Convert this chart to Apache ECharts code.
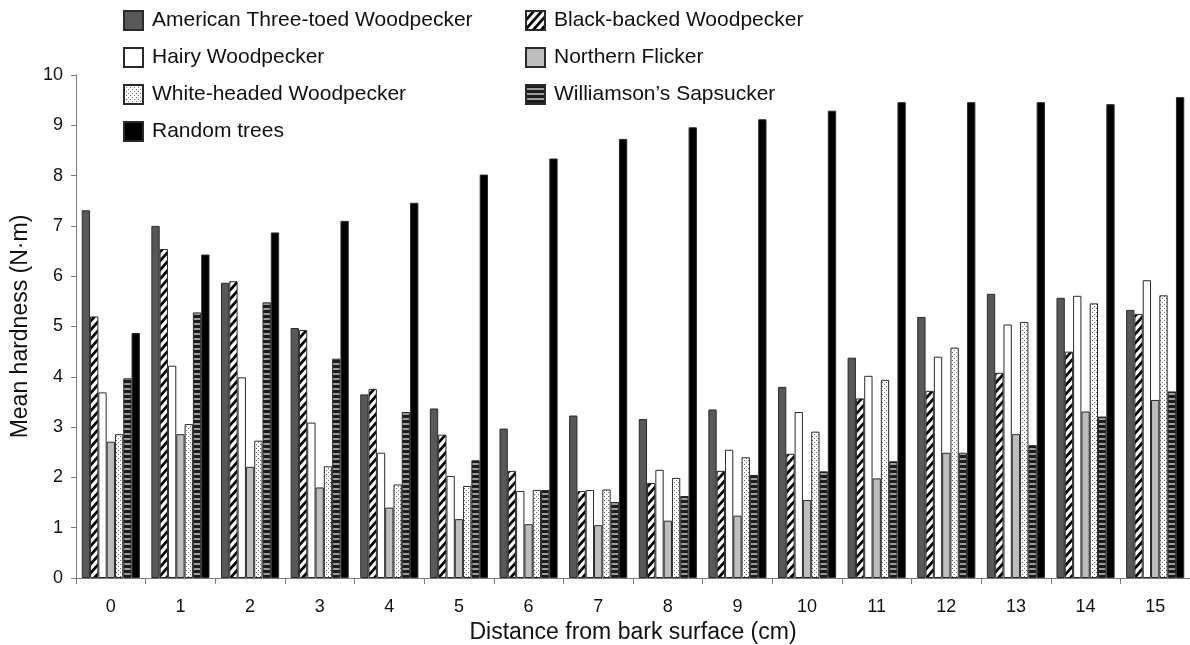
<!DOCTYPE html>
<html>
<head>
<meta charset="utf-8">
<script src="https://cdn.jsdelivr.net/npm/echarts@6/dist/echarts.min.js"></script>
<style>
html,body{margin:0;padding:0;background:#fff;}
#chart{width:1190px;height:645px;}
</style>
</head>
<body>
<div id="chart"></div>
<script>
// ---- data ----
const categories = ['0','1','2','3','4','5','6','7','8','9','10','11','12','13','14','15'];
const seriesNames = ['American Three-toed Woodpecker','Black-backed Woodpecker','Hairy Woodpecker','Northern Flicker','White-headed Woodpecker',"Williamson\u2019s Sapsucker",'Random trees'];
const americanThreeToed = [7.31,7.00,5.87,4.97,3.65,3.37,2.97,3.23,3.16,3.35,3.80,4.38,5.19,5.65,5.57,5.33];
const blackBacked      = [5.20,6.54,5.90,4.93,3.76,2.85,2.13,1.73,1.89,2.13,2.47,3.57,3.72,4.08,4.50,5.25];
const hairy            = [3.69,4.22,3.99,3.09,2.49,2.03,1.73,1.75,2.15,2.55,3.30,4.02,4.40,5.04,5.61,5.92];
const northernFlicker  = [2.71,2.86,2.21,1.80,1.40,1.17,1.07,1.05,1.14,1.24,1.55,1.98,2.49,2.86,3.31,3.54];
const whiteHeaded      = [2.86,3.06,2.73,2.22,1.86,1.83,1.75,1.76,1.99,2.40,2.91,3.94,4.58,5.09,5.46,5.62];
const williamsons      = [3.97,5.28,5.48,4.36,3.30,2.34,1.75,1.51,1.63,2.05,2.12,2.32,2.49,2.64,3.21,3.71];
const randomTrees      = [4.87,6.43,6.87,7.10,7.46,8.02,8.34,8.73,8.96,9.12,9.29,9.46,9.46,9.46,9.42,9.56];
const yTicks = [0,1,2,3,4,5,6,7,8,9,10];

// ---- patterns ----
function makeCanvas(w,h){const c=document.createElement('canvas');c.width=w;c.height=h;return c;}
function hatch(){
  const w=8,h=9,c=makeCanvas(w,h),x=c.getContext('2d');
  x.fillStyle='#fff';x.fillRect(0,0,w,h);
  x.strokeStyle='#000';x.lineWidth=2.8;x.lineCap='butt';
  for(let k=-1;k<=1;k++){
    x.beginPath();
    x.moveTo(-2,h+k*h+2*h/w);x.lineTo(w+2,k*h-2*h/w);x.stroke();
  }
  return c;
}
function dots(){
  const c=makeCanvas(4,4),x=c.getContext('2d');
  x.fillStyle='#fff';x.fillRect(0,0,4,4);
  x.fillStyle='#6a6a6a';
  x.fillRect(0,0,1,1);x.fillRect(2,2,1,1);
  return c;
}
function hstripes(){
  const c=makeCanvas(4,5),x=c.getContext('2d');
  x.fillStyle='#1c1c1c';x.fillRect(0,0,4,5);
  x.fillStyle='#9c9c9c';x.fillRect(0,3,4,2);
  return c;
}
const fills = [
  '#585858',
  {image:hatch(),repeat:'repeat'},
  '#ffffff',
  '#bdbdbd',
  {image:dots(),repeat:'repeat'},
  {image:hstripes(),repeat:'repeat'},
  '#000000'
];
const values = [americanThreeToed,blackBacked,hairy,northernFlicker,whiteHeaded,williamsons,randomTrees];

const font = 'Liberation Sans, Arial, Helvetica, sans-serif';
const chart = echarts.init(document.getElementById('chart'),null,{renderer:'canvas'});

const series = seriesNames.map((n,i)=>({
  name:n,type:'bar',data:values[i],
  barGap:'0%',barCategoryGap:'16.5%',
  itemStyle:{color:fills[i],borderColor:'#2a2a2a',borderWidth:1},
  emphasis:{disabled:true},
  animation:false
}));

const legendCommon = {
  orient:'vertical',itemWidth:19,itemHeight:19,itemGap:16,padding:0,
  icon:'rect',
  textStyle:{fontFamily:font,fontSize:21,color:'#111',padding:[0,0,0,4]},
  selectedMode:false
};

chart.setOption({
  animation:false,
  backgroundColor:'#fff',
  textStyle:{fontFamily:font},
  grid:{left:76,right:0,top:75,bottom:67,containLabel:false,outerBoundsMode:'none'},
  legend:[
    Object.assign({},legendCommon,{left:123,top:10,data:[seriesNames[0],seriesNames[2],seriesNames[4],seriesNames[6]]}),
    Object.assign({},legendCommon,{left:525,top:10,data:[seriesNames[1],seriesNames[3],seriesNames[5]]})
  ],
  xAxis:{
    type:'category',data:categories,
    name:'Distance from bark surface (cm)',nameLocation:'middle',nameGap:43,
    nameTextStyle:{fontFamily:font,fontSize:23,color:'#111'},
    axisLine:{lineStyle:{color:'#7a7a7a',width:1}},
    axisTick:{show:true,alignWithLabel:false,length:6,lineStyle:{color:'#7a7a7a'}},
    axisLabel:{fontFamily:font,fontSize:18,color:'#111',margin:20},
    splitLine:{show:false}
  },
  yAxis:{
    type:'value',min:yTicks[0],max:yTicks[yTicks.length-1],interval:1,
    name:'Mean hardness (N\u00b7m)',nameLocation:'middle',nameGap:44,
    nameTextStyle:{fontFamily:font,fontSize:23,color:'#111'},
    axisLine:{show:true,lineStyle:{color:'#7a7a7a',width:1}},
    axisTick:{show:true,length:5,lineStyle:{color:'#7a7a7a'}},
    axisLabel:{fontFamily:font,fontSize:18,color:'#111',margin:13},
    splitLine:{show:false}
  },
  series:series
});
</script>
</body>
</html>
